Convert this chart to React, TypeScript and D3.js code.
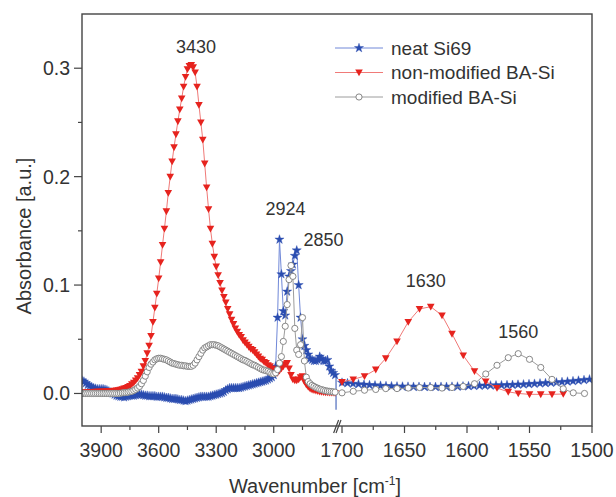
import React from 'react';
import * as d3 from 'd3';

// ---------- data ----------
const LEFT_WN = d3.range(4000, 2675, -10); // 4000 .. 2680
const BLUE_LEFT = [
  0.012, 0.011, 0.0095, 0.008, 0.007, 0.006, 0.005, 0.0045, 0.004, 0.004,
  0.004, 0.004, 0.0035, 0.003, 0.002, 0.001, 0.0, -0.001, -0.002, -0.0025,
  -0.003, -0.003, -0.0035, -0.003, -0.0025, -0.002, -0.002, -0.002, -0.0015, -0.001,
  -0.001, -0.001, -0.0015, -0.002, -0.002, -0.0025, -0.0025, -0.0025, -0.0025, -0.003,
  -0.003, -0.003, -0.003, -0.0035, -0.004, -0.004, -0.0045, -0.005, -0.005, -0.005,
  -0.0055, -0.006, -0.006, -0.0065, -0.007, -0.0065, -0.006, -0.0055, -0.005, -0.0045,
  -0.004, -0.0035, -0.003, -0.003, -0.003, -0.003, -0.003, -0.0025, -0.002, -0.0015,
  -0.001, -0.0005, 0.0, 0.0005, 0.0015, 0.003, 0.004, 0.005, 0.005, 0.005,
  0.005, 0.005, 0.005, 0.0055, 0.006, 0.0065, 0.007, 0.0075, 0.008, 0.0085,
  0.009, 0.0095, 0.01, 0.0105, 0.011, 0.0115, 0.012, 0.013, 0.014, 0.015,
  0.017, 0.025, 0.07, 0.142, 0.11, 0.076, 0.072, 0.094, 0.108, 0.113,
  0.119, 0.127, 0.132, 0.1, 0.07, 0.05, 0.044, 0.04, 0.036, 0.032,
  0.031, 0.03, 0.03, 0.031, 0.034, 0.032, 0.03, 0.03, 0.031, 0.025,
  0.021, 0.019, 0.017,
];
const RED_LEFT = [
  0.001, 0.001, 0.001, 0.001, 0.0012, 0.0012, 0.0014, 0.0015, 0.0015, 0.0016,
  0.0017, 0.0018, 0.0018, 0.0019, 0.002, 0.002, 0.0022, 0.0025, 0.0028, 0.003,
  0.0035, 0.004, 0.0045, 0.005, 0.006, 0.007, 0.0085, 0.01, 0.012, 0.014,
  0.017, 0.02, 0.025, 0.03, 0.037, 0.044, 0.053, 0.066, 0.079, 0.092,
  0.106, 0.121, 0.137, 0.152, 0.168, 0.185, 0.2, 0.214, 0.227, 0.239,
  0.251, 0.262, 0.272, 0.283, 0.292, 0.299, 0.302, 0.303, 0.301, 0.296,
  0.283, 0.266, 0.25, 0.234, 0.212, 0.19, 0.17, 0.152, 0.138, 0.126,
  0.117, 0.109, 0.102, 0.095, 0.089, 0.084, 0.078, 0.073, 0.068, 0.064,
  0.06, 0.057, 0.054, 0.052, 0.049, 0.047, 0.045, 0.043, 0.041, 0.04,
  0.038, 0.036, 0.034, 0.032, 0.031, 0.029, 0.028, 0.026, 0.025, 0.023,
  0.022, 0.02, 0.019, 0.021, 0.023, 0.025, 0.027, 0.028, 0.023, 0.017,
  0.013, 0.012, 0.012, 0.013, 0.015, 0.016, 0.011, 0.008, 0.006, 0.0045,
  0.0035, 0.003, 0.0025, 0.002, 0.0017, 0.0015, 0.0012, 0.001, 0.0009, 0.0008,
  0.0007, 0.0006, 0.0005,
];
const GRAY_LEFT = [
  0, 0, 0, 0, 0, 0, 0, 0, 0, 0,
  0, 0, 0, 0, 0, 0, 0, 0, 0, 0,
  0.0003, 0.0005, 0.0007, 0.0009, 0.0012, 0.0016, 0.002, 0.0028, 0.0038, 0.005,
  0.0065, 0.009, 0.012, 0.016, 0.02, 0.024, 0.027, 0.029, 0.031, 0.032,
  0.0325, 0.0325, 0.032, 0.0315, 0.031, 0.03, 0.029, 0.028, 0.0275, 0.027,
  0.0265, 0.026, 0.026, 0.0255, 0.0255, 0.025, 0.025, 0.025, 0.026, 0.028,
  0.031, 0.034, 0.037, 0.04, 0.042, 0.043, 0.044, 0.045, 0.045, 0.045,
  0.0445, 0.044, 0.043, 0.042, 0.041, 0.04, 0.039, 0.038, 0.037, 0.036,
  0.035, 0.034, 0.033, 0.032, 0.031, 0.0305, 0.0295, 0.0285, 0.0275, 0.0265,
  0.026, 0.025, 0.024, 0.023, 0.022, 0.0215, 0.021, 0.0205, 0.0195, 0.0185,
  0.018, 0.019, 0.022, 0.028, 0.034, 0.048, 0.062, 0.082, 0.105, 0.118,
  0.108, 0.06, 0.04, 0.036, 0.045, 0.07, 0.03, 0.015, 0.011, 0.009,
  0.0075, 0.0065, 0.0055, 0.0048, 0.004, 0.0035, 0.003, 0.0025, 0.0022, 0.002,
  0.0018, 0.0015, 0.0012,
];

const RIGHT_WN = [1700, 1691, 1682, 1673, 1665, 1656, 1647, 1638, 1629, 1620, 1612, 1603,
  1594, 1585, 1576, 1567, 1559, 1550, 1541, 1532, 1523, 1515, 1506];
const RED_RIGHT = [0.0105, 0.013, 0.016, 0.022, 0.0324, 0.048, 0.066, 0.078, 0.08, 0.072,
  0.055, 0.035, 0.0206, 0.011, 0.005, 0.0015, 0.0, -0.0008, -0.0008, -0.0008, -0.0005];
const GRAY_RIGHT = [0.0006, 0.002, 0.003, 0.0037, 0.0045, 0.0045, 0.005, 0.0055, 0.0055, 0.005,
  0.0055, 0.0065, 0.009, 0.018, 0.026, 0.033, 0.0367, 0.0315, 0.024, 0.013, 0.0043, 0.0006, 0.0];
const BLUE_RIGHT_WN = d3.range(1700, 1500, -4.4);
const BLUE_RIGHT = [
  0.01, 0.0095, 0.009, 0.0086, 0.0082, 0.0078, 0.0075, 0.0072, 0.0069, 0.0067,
  0.0065, 0.0064, 0.0063, 0.0062, 0.0062, 0.0061, 0.0061, 0.0061, 0.0062, 0.0062,
  0.0063, 0.0064, 0.0066, 0.0068, 0.007, 0.0072, 0.0073, 0.0074, 0.0075, 0.0076,
  0.0078, 0.008, 0.0082, 0.0084, 0.0087, 0.009, 0.0093, 0.0096, 0.0099, 0.0102,
  0.0106, 0.011, 0.0114, 0.0119, 0.0124, 0.013,
];
const BLUE_BREAK_DROP = [0.017, -0.015];

const SERIES_NAMES = ['neat Si69', 'non-modified BA-Si', 'modified BA-Si'];
const Y_MAJOR = [0, 0.1, 0.2, 0.3];
const Y_MINOR = [0.05, 0.15, 0.25];
const X_LEFT_MAJOR = [3900, 3600, 3300, 3000];
const X_LEFT_MINOR = [3750, 3450, 3150, 2850];
const X_RIGHT_MAJOR = [1700, 1650, 1600, 1550, 1500];
const X_RIGHT_MINOR = [1675, 1625, 1575, 1525];
const ANNOTATIONS = [
  { label: '3430', seg: 'L', wn: 3405, v: 0.314 },
  { label: '2924', seg: 'L', wn: 2938, v: 0.1647 },
  { label: '2850', seg: 'L', wn: 2740, v: 0.136 },
  { label: '1630', seg: 'R', wn: 1633, v: 0.0985 },
  { label: '1560', seg: 'R', wn: 1559, v: 0.0515 },
];

// ---------- layout ----------
const W = 616, H = 497;
const PL = 82, PR = 592, PT = 14, PB = 426;
const FONT = '"Liberation Sans", Arial, Helvetica, sans-serif';
const TXT = '#333';

const xL = d3.scaleLinear().domain([4000, 2670]).range([PL, 337]);
const xR = d3.scaleLinear().domain([1700, 1500]).range([342, PR]);
const y = d3.scaleLinear().domain([-0.03, 0.35]).range([PB, PT]);

const BLUE_LINE = '#7088d8', BLUE_MK = '#2a4db0';
const RED_LINE = '#f07a78', RED_MK = '#e6231e';
const GRAY_LINE = '#9c9c9c', GRAY_MK = '#7a7a7a';

const starPath = d3.symbol(d3.symbolStar, 26)() as string;
const triPath = 'M-3.8,-3L3.8,-3L0,3.8Z';

type Pt = [number, number];
const pts = (xs: number[], vs: number[], sx: (v: number) => number): Pt[] =>
  vs.map((v, i) => [sx(xs[i]), y(v)]);

const lineGen = d3.line<Pt>().x(d => d[0]).y(d => d[1]);

function Marker({ kind, x, yy }: { kind: string; x: number; yy: number }) {
  if (kind === 'star') return <path d={starPath} transform={`translate(${x},${yy})`} fill={BLUE_MK} stroke={BLUE_MK} strokeWidth={0.4} />;
  if (kind === 'tri') return <path d={triPath} transform={`translate(${x},${yy})`} fill={RED_MK} />;
  return <circle cx={x} cy={yy} r={3.1} fill="#fff" stroke={GRAY_MK} strokeWidth={0.9} />;
}

function Series({ p, color, kind }: { p: Pt[]; color: string; kind: string }) {
  return (
    <g>
      <path d={lineGen(p) as string} fill="none" stroke={color} strokeWidth={1} />
      {p.map((d, i) => <Marker key={i} kind={kind} x={d[0]} yy={d[1]} />)}
    </g>
  );
}

export default function App() {
  const blueL = pts(LEFT_WN, BLUE_LEFT, xL);
  const blueR = pts(BLUE_RIGHT_WN, BLUE_RIGHT, xR);
  const redL = pts(LEFT_WN, RED_LEFT, xL);
  const redR = pts(RIGHT_WN, RED_RIGHT, xR);
  const grayL = pts(LEFT_WN, GRAY_LEFT, xL);
  const grayR = pts(RIGHT_WN, GRAY_RIGHT, xR);
  const breakX = xL(2675);

  const legendRows = [
    { name: SERIES_NAMES[0], color: BLUE_LINE, kind: 'star' },
    { name: SERIES_NAMES[1], color: RED_LINE, kind: 'tri' },
    { name: SERIES_NAMES[2], color: GRAY_LINE, kind: 'circle' },
  ];

  return (
    <svg width={W} height={H} style={{ position: 'absolute', left: 0, top: 0, background: '#fff' }}
      fontFamily={FONT}>
      <rect x={0} y={0} width={W} height={H} fill="#fff" />
      <defs>
        <clipPath id="plot"><rect x={PL} y={PT} width={PR - PL} height={PB - PT} /></clipPath>
      </defs>

      <g clipPath="url(#plot)">
        <Series p={blueL} color={BLUE_LINE} kind="star" />
        <line x1={breakX} x2={breakX} y1={y(BLUE_BREAK_DROP[0])} y2={y(BLUE_BREAK_DROP[1])} stroke={BLUE_MK} strokeWidth={1} />
        <Series p={blueR} color={BLUE_LINE} kind="star" />
        <Series p={redL} color={RED_LINE} kind="tri" />
        <Series p={redR} color={RED_LINE} kind="tri" />
        <Series p={grayL} color={GRAY_LINE} kind="circle" />
        <Series p={grayR} color={GRAY_LINE} kind="circle" />
      </g>

      {/* frame */}
      <rect x={PL} y={PT} width={PR - PL} height={PB - PT} fill="none" stroke="#444" strokeWidth={1.4} />

      {/* y ticks */}
      {Y_MAJOR.map(t => (
        <g key={'ym' + t}>
          <line x1={PL - 8} x2={PL} y1={y(t)} y2={y(t)} stroke="#444" strokeWidth={1.2} />
          <text x={PL - 12} y={y(t)} dy="0.36em" textAnchor="end" fontSize={19.5} fill={TXT}>{d3.format('.1f')(t)}</text>
        </g>
      ))}
      {Y_MINOR.map(t => (
        <line key={'yn' + t} x1={PL - 4} x2={PL} y1={y(t)} y2={y(t)} stroke="#444" strokeWidth={1.2} />
      ))}

      {/* x ticks */}
      {X_LEFT_MAJOR.map(t => (
        <g key={'xl' + t}>
          <line x1={xL(t)} x2={xL(t)} y1={PB} y2={PB + 7} stroke="#444" strokeWidth={1.2} />
          <text x={xL(t)} y={PB + 31} textAnchor="middle" fontSize={19.5} fill={TXT}>{t}</text>
        </g>
      ))}
      {X_LEFT_MINOR.map(t => (
        <line key={'xln' + t} x1={xL(t)} x2={xL(t)} y1={PB} y2={PB + 4} stroke="#444" strokeWidth={1.2} />
      ))}
      {X_RIGHT_MAJOR.map(t => (
        <g key={'xr' + t}>
          <line x1={xR(t)} x2={xR(t)} y1={PB} y2={PB + 7} stroke="#444" strokeWidth={1.2} />
          <text x={xR(t)} y={PB + 31} textAnchor="middle" fontSize={19.5} fill={TXT}>{t}</text>
        </g>
      ))}
      {X_RIGHT_MINOR.map(t => (
        <line key={'xrn' + t} x1={xR(t)} x2={xR(t)} y1={PB} y2={PB + 4} stroke="#444" strokeWidth={1.2} />
      ))}

      {/* axis break marks */}
      <g stroke="#444" strokeWidth={1.2}>
        <line x1={xL(2672) - 3} y1={PB + 7} x2={xL(2672) + 2} y2={PB - 6} />
        <line x1={xR(1700) - 6} y1={PB + 7} x2={xR(1700) - 1} y2={PB - 6} />
      </g>

      {/* annotations */}
      {ANNOTATIONS.map(a => (
        <text key={a.label} x={a.seg === 'L' ? xL(a.wn) : xR(a.wn)} y={y(a.v)} textAnchor="middle" fontSize={18} fill={TXT}>{a.label}</text>
      ))}

      {/* legend */}
      {legendRows.map((r, i) => {
        const ly = 48 + i * 24.5;
        return (
          <g key={r.name}>
            <line x1={335} x2={383} y1={ly} y2={ly} stroke={r.color} strokeWidth={1} />
            <Marker kind={r.kind} x={359} yy={ly} />
            <text x={391} y={ly + 6.5} fontSize={19} fill={TXT}>{r.name}</text>
          </g>
        );
      })}

      {/* axis titles */}
      <text x={315} y={493} textAnchor="middle" fontSize={20} fill={TXT}>
        Wavenumber [cm<tspan dy={-8} fontSize={12}>-1</tspan><tspan dy={8}>]</tspan>
      </text>
      <text transform={`translate(31,236) rotate(-90)`} textAnchor="middle" fontSize={20} fill={TXT}>Absorbance [a.u.]</text>
    </svg>
  );
}
